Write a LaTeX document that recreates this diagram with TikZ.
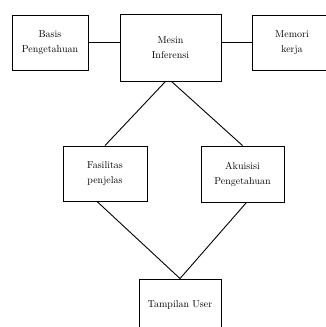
\documentclass[tikz,border=0pt]{standalone}
\usepackage{tikz}
\usetikzlibrary{positioning, calc}

\begin{document}
\begin{tikzpicture}[x=1pt, y=-1pt,
		blok/.style={draw, line width=0.9pt, align=center, anchor=center, font=\fontsize{10}{15}\selectfont}]
		\useasboundingbox (0,0) rectangle (326,327);
		\node[blok, minimum width=76pt, minimum height=55pt] (basis) at (50,42.5) {Basis\\Pengetahuan};
		\node[blok, minimum width=101pt, minimum height=67pt] (mesin) at (170.5,47.5) {Mesin\\Inferensi};
		\node[blok, minimum width=80pt, minimum height=55pt] (memori) at (292,42.5) {Memori\\kerja};
		\node[blok, minimum width=84pt, minimum height=55pt] (fasilitas) at (105,173.5) {Fasilitas\\penjelas};
		\node[blok, minimum width=83pt, minimum height=56pt] (akuisisi) at (242.5,174) {Akuisisi\\Pengetahuan};
		\node[blok, minimum width=82pt, minimum height=52pt] (tampilan) at (180,305) {Tampilan User};
		\draw[line width=0.9pt] (basis.east) -- (basis.east -| mesin.west);
		\draw[line width=0.9pt] (mesin.east |- memori.west) -- (memori.west);
		\draw[line width=0.9pt] ($(mesin.south)+(-5,0)$) -- (fasilitas.north);
		\draw[line width=0.9pt] ($(mesin.south)+(1,0)$) -- (akuisisi.north);
		\draw[line width=0.9pt] ($(fasilitas.south)+(-8,0)$) -- (tampilan.north);
		\draw[line width=0.9pt] ($(akuisisi.south)+(4,0)$) -- (tampilan.north);
	\end{tikzpicture}
\end{document}
